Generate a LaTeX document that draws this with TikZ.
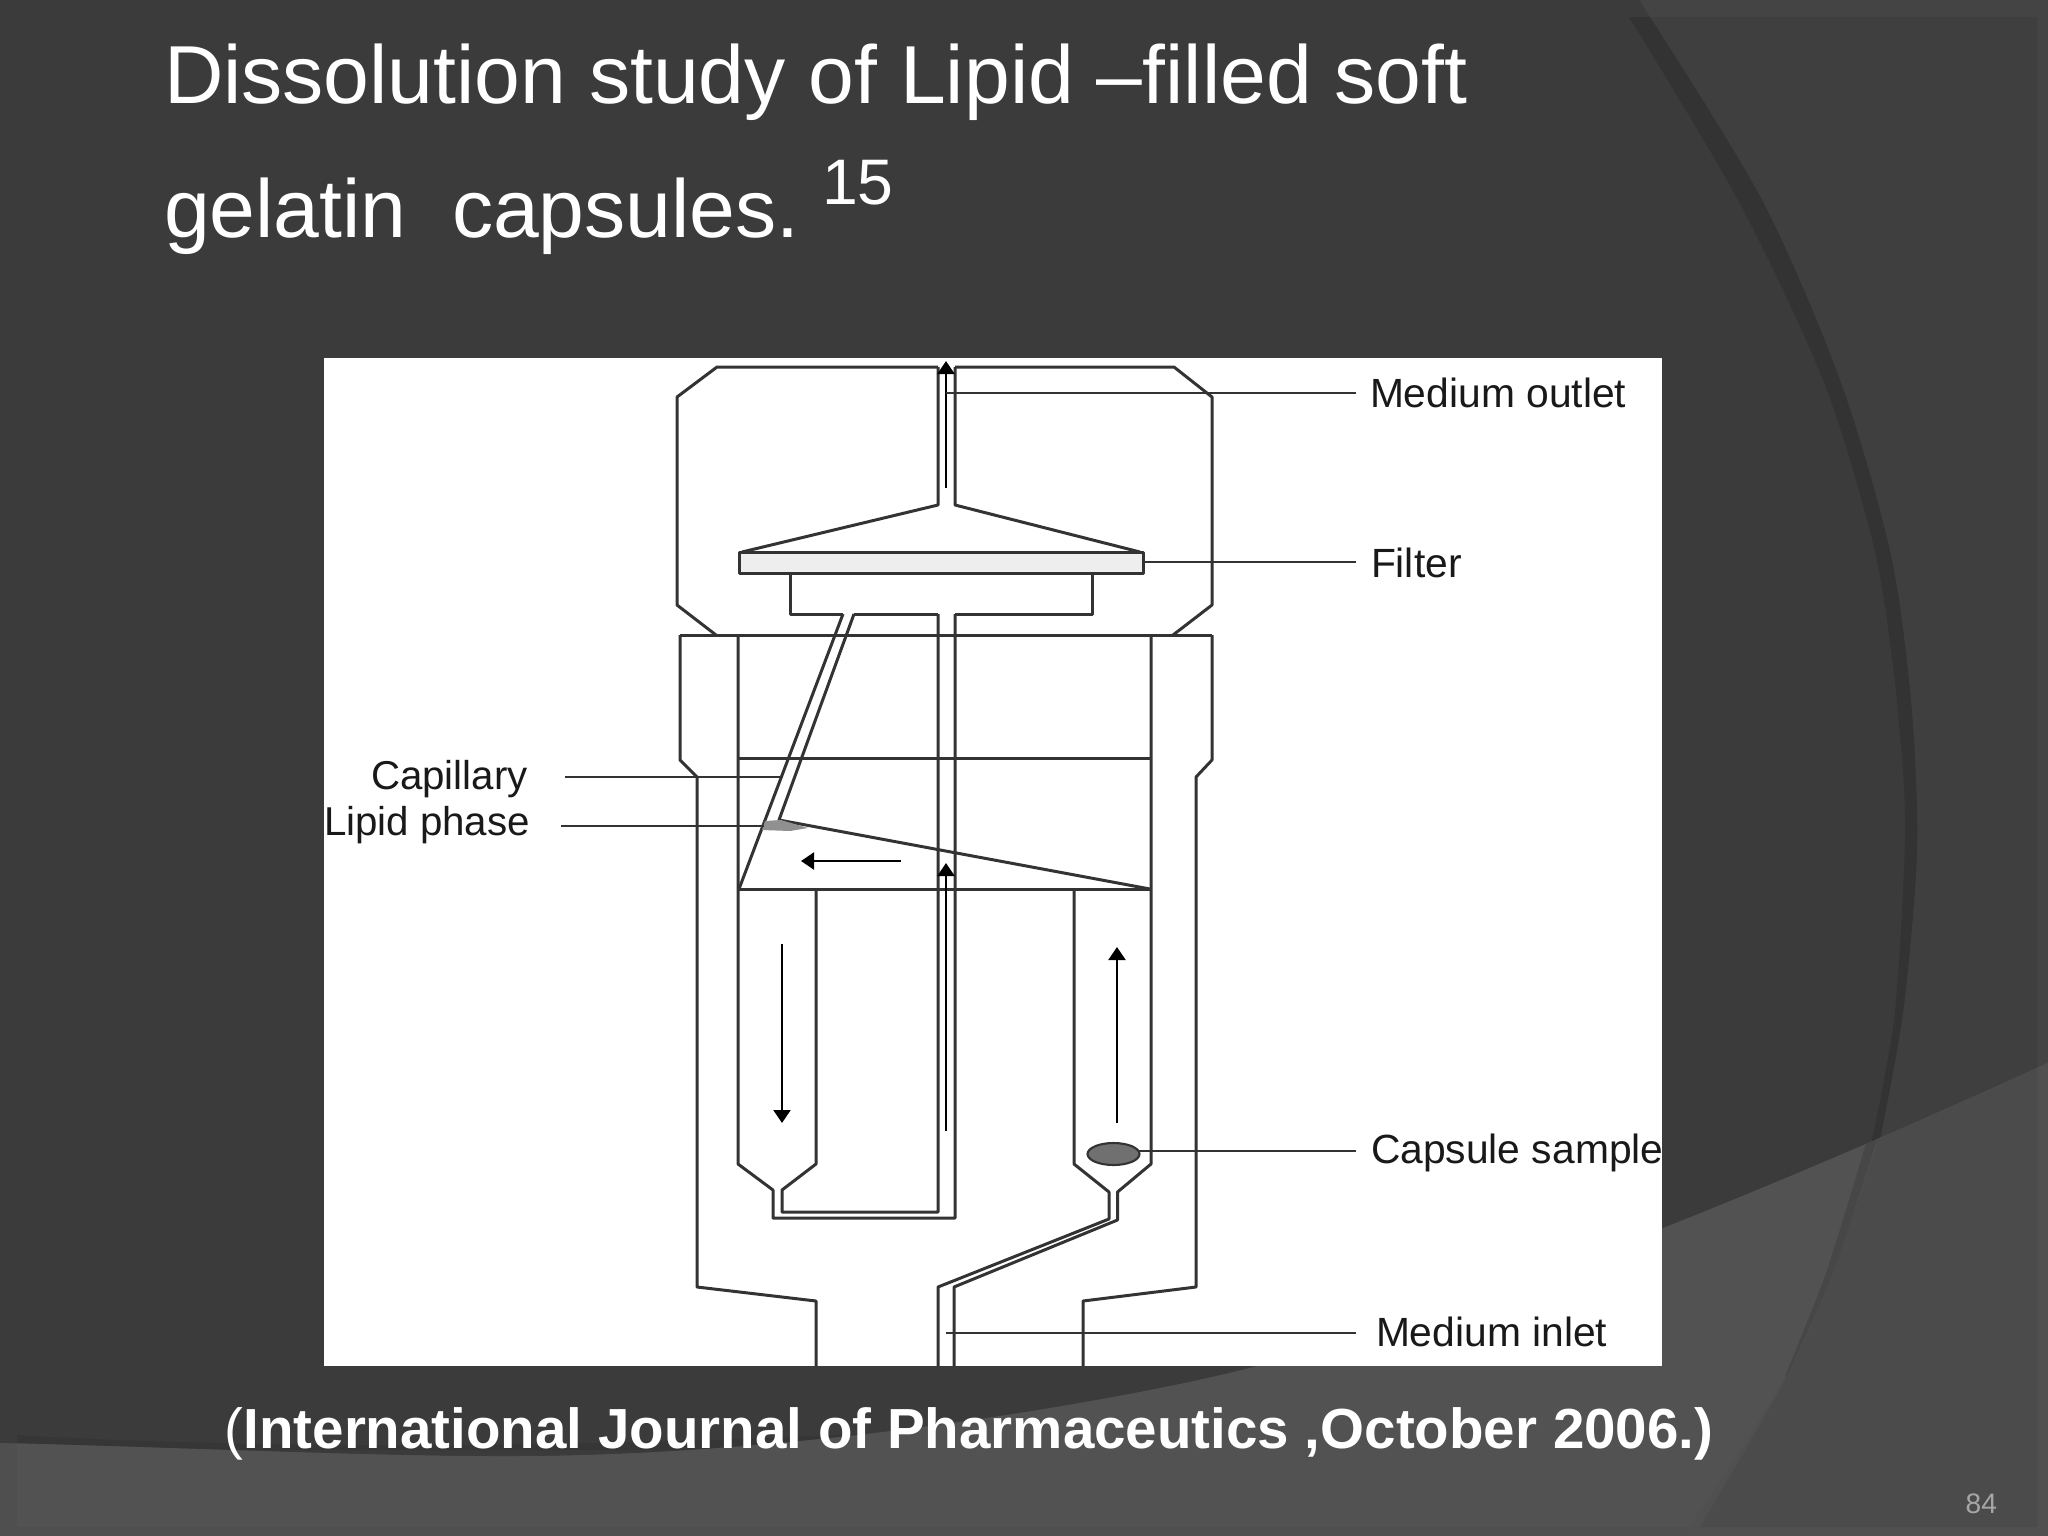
\documentclass[tikz,border=0pt]{standalone}
\usepackage{fontspec}
\setmainfont{Liberation Sans}
\usetikzlibrary{arrows.meta}
\definecolor{bgbase}{HTML}{3B3B3B}
\definecolor{bgright}{HTML}{3F3F3F}
\definecolor{bgband}{HTML}{333333}
\definecolor{bgshadow}{HTML}{363636}
\definecolor{bgframe}{HTML}{444444}
\definecolor{bglowout}{HTML}{4F4F4F}
\definecolor{bglow}{HTML}{525252}
\definecolor{bglowr}{HTML}{4B4B4B}
\definecolor{bglowrout}{HTML}{505050}
\definecolor{bglowband}{HTML}{474747}
\definecolor{ink}{HTML}{333333}
\definecolor{filtergray}{HTML}{EEEEEE}
\definecolor{capsgray}{HTML}{707070}
\definecolor{lipidgray}{HTML}{909090}
\tikzset{
  part/.style={draw=ink,line width=0.85pt,line join=round},
  leader/.style={draw=ink,line width=0.65pt},
  flow/.style={draw=black,line width=0.75pt,-{Triangle[length=3.7pt,width=4.8pt]}},
  lab/.style={anchor=base west,inner sep=0pt,outer sep=0pt,text=black!90,font=\fontsize{11.6}{13}\selectfont},
  labl/.style={lab,font=\fontsize{11.45}{13}\selectfont},
  head/.style={anchor=base west,inner sep=0pt,outer sep=0pt,text=white,font=\fontsize{23.4}{28}\selectfont},
}
\begin{document}
\begin{tikzpicture}[x=0.01cm,y=-0.01cm]
\useasboundingbox (0,0) rectangle (2048,1536);
% background
\fill[bgbase] (0,0) rectangle (2048,1536);
\fill[bgframe] plot[smooth] coordinates {(1640,0) (1650,17) (1762,200) (1840,380) (1890,551) (1910,690) (1917,809) (1915,890) (1902,1020) (1878,1143)} -- (2048,1143) -- (2048,0) -- cycle;
\fill[bgright] plot[smooth] coordinates {(1650,17) (1762,200) (1840,380) (1890,551) (1910,690) (1917,809) (1915,890) (1902,1020) (1878,1143)} -- (2037,1143) -- (2037,17) -- cycle;
\fill[bgband] plot[smooth] coordinates {(1629,17) (1738,200) (1823,380) (1873,543) (1893,666) (1904,788) (1904,870) (1894,1020) (1870,1150)}
  -- plot[smooth] coordinates {(1878,1150) (1902,1020) (1915,890) (1917,809) (1910,690) (1890,551) (1840,380) (1762,200) (1650,17)} -- cycle;
\fill[bgshadow] (17,1435) .. controls (200,1446) and (500,1452) .. (900,1432) -- (900,1450) -- (17,1450) -- cycle;
\path[save path=\lowedge] (0,1443) .. controls (200,1448) and (400,1458) .. (545,1456) .. controls (800,1452) and (1050,1412) .. (1199,1380) .. controls (1400,1336) and (1700,1222) .. (2048,1063) -- (2048,1536) -- (0,1536) -- cycle;
\fill[bglowout,use path=\lowedge];
\begin{scope}
\clip[use path=\lowedge];
\fill[bglow] (17,1400) rectangle (2048,1527);
\fill[bglow] (900,1000) rectangle (2048,1527);
\fill[bglowrout] plot[smooth] coordinates {(1877,1144) (1833,1273) (1787,1376) (1683,1536)} -- (2048,1536) -- (2048,1000) -- (1877,1000) -- cycle;
\fill[bglowr] plot[smooth] coordinates {(1877,1144) (1833,1273) (1787,1376) (1700,1527)} -- (2037,1527) -- (2037,1000) -- (1877,1000) -- cycle;
\fill[bglowband] plot[smooth] coordinates {(1867,1140) (1826,1273) (1785,1376)} -- plot[smooth] coordinates {(1787,1376) (1833,1273) (1877,1140)} -- cycle;
\end{scope}
% white panel
\fill[white] (324,358) rectangle (1662,1366);
% named points
\coordinate (tube) at (946,393);
\coordinate (filt) at (1143,562);
\coordinate (caps) at (1139,1151);
\coordinate (inl) at (946,1333);
\coordinate (capi) at (783,777);
\coordinate (lipi) at (764,826);
\coordinate (ocap) at (1356,393);
\coordinate (ofil) at (1356,562);
\coordinate (osam) at (1356,1151);
\coordinate (oinl) at (1356,1333);
\coordinate (ocpl) at (565,777);
\coordinate (olip) at (561,826);
% upper housing
\draw[part] (938,367) -- (717,367) -- (677,397) -- (677,605) -- (716,635);
\draw[part] (955,367) -- (1174,367) -- (1212,397) -- (1212,605) -- (1173,635);
% outlet tube and cone
\draw[part] (938,367) -- (938,505) -- (742,552);
\draw[part] (955,367) -- (955,505) -- (1140,552);
% filter
\draw[part,fill=filtergray] (739,552) rectangle (1143,573);
% box under filter
\draw[part] (790,573) -- (790,614) -- (843,614);
\draw[part] (854,614) -- (938,614);
\draw[part] (955,614) -- (1092,614) -- (1092,573);
% main body
\draw[part] (680,635) -- (1212,635);
\draw[part] (680,635) -- (680,760) -- (697,777) -- (697,1287) -- (816,1301) -- (816,1366);
\draw[part] (1212,635) -- (1212,760) -- (1196,777) -- (1196,1287) -- (1083,1301) -- (1083,1366);
% inner chamber
\draw[part] (738,635) -- (738,1164) -- (773,1190) -- (773,1218) -- (955,1218) -- (955,614);
\draw[part] (1151,635) -- (1151,1164) -- (1117.5,1192) -- (1117.5,1220) -- (954,1287) -- (954,1366);
\draw[part] (738,758) -- (1151,758);
\draw[part] (738,889) -- (1151,889);
% capillary
\draw[part] (843,614) -- (739,889);
\draw[part] (854,614) -- (779,820) -- (1150,889);
\fill[lipidgray] (765,821) -- (781,820) -- (808,828) -- (790,831) -- (762,830) -- cycle;
% centre tube
\draw[part] (938,614) -- (938,1212) -- (782,1212) -- (782,1190) -- (816,1164) -- (816,889);
% right channel
\draw[part] (1074,889) -- (1074,1164) -- (1109,1192) -- (1109,1219) -- (938,1287) -- (938,1366);
% capsule
\draw[draw=ink,line width=0.6pt,fill=capsgray] (1113.5,1154) ellipse [x radius=26,y radius=11];
% flow arrows
\draw[flow] (946,488) -- (946,361);
\draw[flow] (946,1131) -- (946,863);
\draw[flow] (901,861) -- (801,861);
\draw[flow] (782,944) -- (782,1123);
\draw[flow] (1117,1123) -- (1117,947);
% labels
\node[lab] (lmo) at (1370,407) {Medium outlet};
\node[lab] (lfi) at (1371,577) {Filter};
\node[lab] (lcs) at (1371,1163) {Capsule sample};
\node[lab] (lmi) at (1376,1346) {Medium inlet};
\node[labl] (lcp) at (371,789) {Capillary};
\node[labl] (llp) at (324,835) {Lipid phase};
% leaders
\draw[leader] (tube) -- (ocap);
\draw[leader] (filt) -- (ofil);
\draw[leader] (caps) -- (osam);
\draw[leader] (inl) -- (oinl);
\draw[leader] (capi) -- (ocpl);
\draw[leader] (lipi) -- (olip);
% texts
\node[head] (t1) at (164,103.5) {Dissolution study of Lipid –filled soft};
\node[head] (t2) at (164,237) {gelatin\ \ capsules.};
\node[head,font=\fontsize{18.3}{20}\selectfont] (t3) at (822,204) {15};
\node[anchor=base west,inner sep=0pt,text=white,font=\fontsize{16.07}{19}\selectfont] (cap) at (224,1448) {(\textbf{International Journal of Pharmaceutics ,October 2006.)}};
\node[anchor=base west,inner sep=0pt,text=white!65!black,font=\fontsize{8}{10}\selectfont] (num) at (1965,1513) {84};
\end{tikzpicture}
\end{document}
